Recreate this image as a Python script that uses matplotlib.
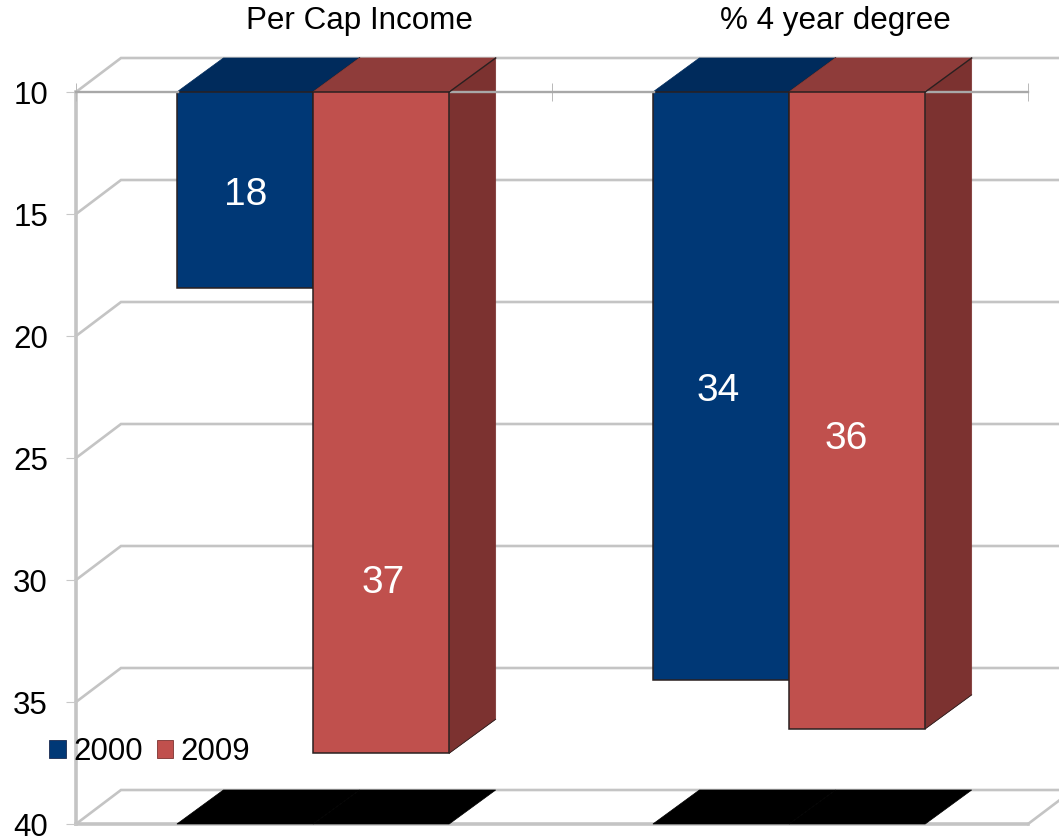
import matplotlib
matplotlib.use('Agg')
import matplotlib.pyplot as plt
from matplotlib.patches import Polygon, Patch

plt.rcParams['font.family'] = ['Liberation Sans', 'DejaVu Sans']

categories = ['Per Cap Income', '% 4 year degree']
years = ['2000', '2009']
values_2000 = [18.05, 34.1]
values_2009 = [37.1, 36.1]
labels_2000 = ['18', '34']
labels_2009 = ['37', '36']
yticks = [10, 15, 20, 25, 30, 35, 40]

W, H = 1059, 838
fig = plt.figure(figsize=(W / 100, H / 100), dpi=100)
# axes box = front plane of the fake 3d chart, in pixels
left, right, top, bottom = 76, 1028, 92, 824
ax = fig.add_axes([left / W, 1 - bottom / H, (right - left) / W, (bottom - top) / H])
ax.set_xlim(0, 2)
ax.set_ylim(40, 10)
for s in ax.spines.values():
    s.set_visible(False)

# depth of the 3d effect in data units
dx = 45 / 476
dx_bar = 46.5 / 476
dy = 34 / 24.4
bar_w = 0.286
shift = -0.002
grid_c = '#c4c4c4'
far = 2.2

# walls and grid
for v in yticks:
    ax.plot([0, dx, far], [v, v - dy, v - dy], color=grid_c, lw=1.9, clip_on=False, zorder=1,
            solid_joinstyle='miter')
ax.plot([0, 0], [10, 40], color=grid_c, lw=2.6, clip_on=False, zorder=1)
# floor: front edge stops at the right end, then goes back
ax.plot([0, 2], [40, 40], color=grid_c, lw=2.6, clip_on=False, zorder=1)
ax.plot([2, 2 + dx], [40, 40 - dy], color=grid_c, lw=1.9, clip_on=False, zorder=1)

# front line at 10 stops at the last tick and runs over the bar sides
seg = [0, 0.5 - bar_w, 0.5 + bar_w, 1.5 - bar_w, 1.5 + bar_w, 2]
for a, b in zip(seg[0::2], seg[1::2]):
    ax.plot([a, b], [10, 10], color='#a8a8a8', lw=1.7, clip_on=False, zorder=4.1)

ax.set_yticks(yticks)
ax.set_xticks([0, 1, 2])
ax.tick_params(axis='y', length=7.2, width=0.8, color='#c8c8c8', pad=13, labelsize=22.5, labelcolor='black')
for t in ax.get_yticklabels():
    t.set_verticalalignment('center_baseline')
ax.tick_params(axis='x', direction='inout', length=13.5, width=0.7, color='#b8b8b8',
               bottom=False, top=True, labelbottom=False)


def draw_bar(x0, val, front, top_c, side_c, z):
    x1 = x0 + bar_w
    edge = '#2a2020'
    ax.add_patch(Polygon([(x0, 10), (x0 + dx_bar, 10 - dy), (x1 + dx_bar, 10 - dy), (x1, 10)],
                         fc=top_c, ec=top_c, lw=0.5, zorder=z, clip_on=False))
    ax.add_patch(Polygon([(x1, 10), (x1 + dx_bar, 10 - dy), (x1 + dx_bar, val - dy), (x1, val)],
                         fc=side_c, ec=side_c, lw=0.5, zorder=z, clip_on=False))
    ax.plot([x1, x1 + dx_bar], [10, 10 - dy], color=edge, lw=1.0, zorder=z + 0.1, clip_on=False)
    ax.plot([x1, x1 + dx_bar], [val, val - dy], color=edge, lw=0.6, zorder=z + 0.1, clip_on=False)
    ax.add_patch(Polygon([(x0, 10), (x1, 10), (x1, val), (x0, val)],
                         fc=front, ec=edge, lw=1.1, zorder=z + 0.2, clip_on=False))
    # black foot print on the floor
    ax.add_patch(Polygon([(x0, 40), (x0 + dx_bar, 40 - dy), (x1 + dx_bar, 40 - dy), (x1, 40)],
                         fc='black', ec='black', lw=0.5, zorder=2, clip_on=False))


for i, cat in enumerate(categories):
    c = i + 0.5 + shift
    draw_bar(c - bar_w, values_2000[i], '#003876', '#002b5c', '#002b5c', 3)
    draw_bar(c, values_2009[i], '#c0504d', '#8f3c3a', '#7c3230', 4)
    fig.text((ax.transData.transform((i + 0.5 + dx, 10))[0]) / W, 1 - 21 / H, cat, fontsize=22.6,
             ha='center', va='center', color='black')

# data labels sit where the original put them, not in the bar middle
pos_2000 = [(0.5 - 0.144, 14.05), (1.5 - 0.151, 22.1)]
pos_2009 = [(0.5 + 0.146, 29.95), (1.5 + 0.118, 24.05)]
for (x, y), t in zip(pos_2000, labels_2000):
    ax.text(x, y, t, color='white', fontsize=28, ha='center', va='center_baseline', zorder=8)
for (x, y), t in zip(pos_2009, labels_2009):
    ax.text(x, y, t, color='white', fontsize=28, ha='center', va='center_baseline', zorder=8)

handles = [Patch(fc='#003876', ec='#1a2a50', lw=0.6), Patch(fc='#c0504d', ec='#7c3230', lw=0.6)]
leg = fig.legend(handles, years, loc='center left', bbox_to_anchor=(40 / W, 1 - 752 / H), ncol=2, frameon=False,
                 fontsize=22.5, handlelength=0.52, handleheight=0.52, handletextpad=0.24,
                 columnspacing=0.46, borderpad=0.3, borderaxespad=0)
leg.set_zorder(10)

fig.savefig('out.png', dpi=100)
